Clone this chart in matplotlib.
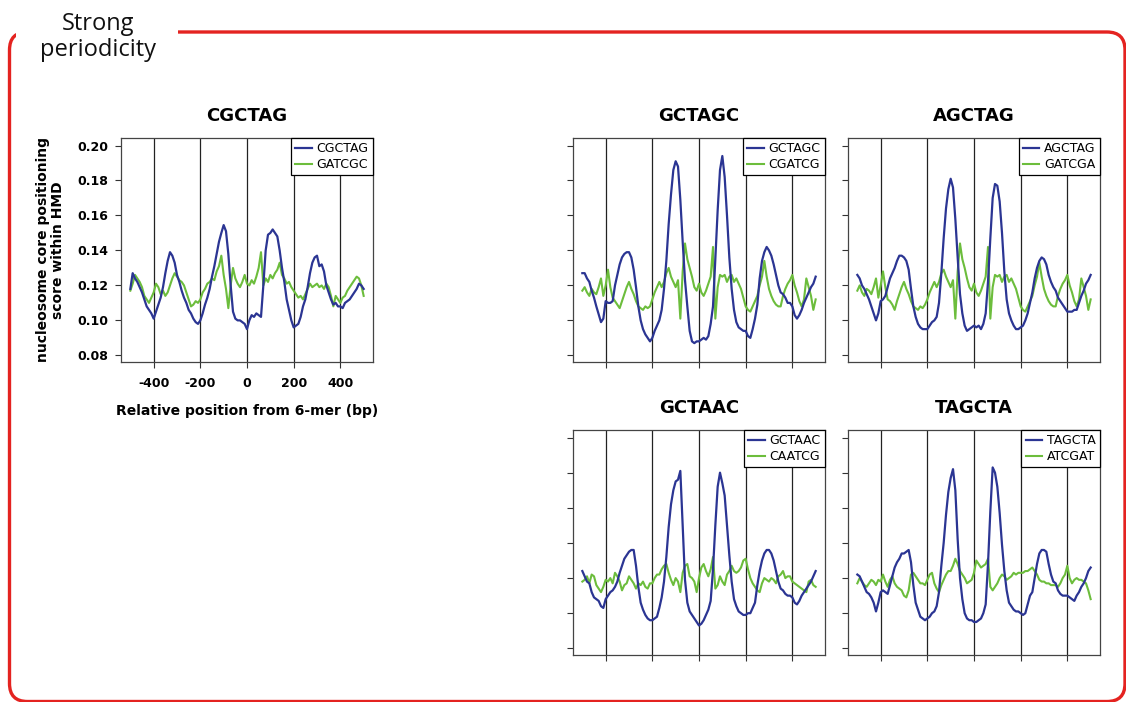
import matplotlib

matplotlib.use("Agg")
import matplotlib.pyplot as plt
from matplotlib.patches import FancyBboxPatch, Rectangle

# positions relative to the 6-mer, 10 bp steps
positions = list(range(-500, 501, 10))

cgctag = [
    0.118, 0.127, 0.124, 0.122, 0.119, 0.116, 0.112, 0.108, 0.106, 0.104,
    0.101, 0.105, 0.109, 0.113, 0.119, 0.127, 0.134, 0.139, 0.137, 0.133,
    0.126, 0.122, 0.117, 0.113, 0.110, 0.106, 0.104, 0.101, 0.099, 0.098,
    0.100, 0.104, 0.109, 0.113, 0.118, 0.125, 0.131, 0.138, 0.145, 0.150,
    0.1545, 0.151, 0.138, 0.120, 0.105, 0.101, 0.100, 0.100, 0.099, 0.098,
    0.095, 0.100, 0.103, 0.102, 0.104, 0.103, 0.102, 0.120, 0.140, 0.149,
    0.150, 0.152, 0.150, 0.148, 0.140, 0.130, 0.122, 0.112, 0.106, 0.100,
    0.096, 0.097, 0.098, 0.102, 0.108, 0.112, 0.119, 0.127, 0.133, 0.136,
    0.137, 0.131, 0.132, 0.128, 0.120, 0.116, 0.112, 0.109, 0.110, 0.108,
    0.108, 0.107, 0.110, 0.111, 0.112, 0.114, 0.116, 0.118, 0.121, 0.120,
    0.118,
]
gatcgc = [
    0.117, 0.121, 0.126, 0.124, 0.122, 0.119, 0.114, 0.112, 0.110, 0.113,
    0.116, 0.121, 0.119, 0.115, 0.117, 0.114, 0.116, 0.120, 0.124, 0.127,
    0.125, 0.123, 0.122, 0.120, 0.116, 0.112, 0.108, 0.109, 0.111, 0.110,
    0.112, 0.116, 0.118, 0.121, 0.122, 0.124, 0.123, 0.128, 0.131, 0.137,
    0.126, 0.118, 0.107, 0.120, 0.130, 0.124, 0.121, 0.119, 0.122, 0.126,
    0.121, 0.120, 0.123, 0.121, 0.125, 0.130, 0.139, 0.120, 0.124, 0.122,
    0.126, 0.124, 0.127, 0.129, 0.133, 0.126, 0.124, 0.121, 0.122, 0.119,
    0.117, 0.115, 0.113, 0.114, 0.112, 0.115, 0.118, 0.121, 0.119, 0.120,
    0.121, 0.119, 0.120, 0.118, 0.121, 0.119, 0.114, 0.108, 0.114, 0.112,
    0.110, 0.113, 0.114, 0.117, 0.119, 0.121, 0.123, 0.125, 0.124, 0.120,
    0.114,
]

gctagc = [
    0.127, 0.127, 0.124, 0.122, 0.117, 0.113, 0.108, 0.1035, 0.099, 0.101,
    0.111, 0.110, 0.110, 0.111, 0.120, 0.126, 0.132, 0.136, 0.138, 0.139,
    0.139, 0.136, 0.129, 0.119, 0.108, 0.100, 0.095, 0.092, 0.090, 0.088,
    0.090, 0.094, 0.097, 0.100, 0.106, 0.118, 0.134, 0.155, 0.172, 0.186,
    0.191, 0.188, 0.169, 0.145, 0.123, 0.108, 0.094, 0.088, 0.087, 0.088,
    0.088, 0.089, 0.090, 0.089, 0.091, 0.098, 0.108, 0.135, 0.163, 0.186,
    0.194, 0.182, 0.160, 0.136, 0.118, 0.106, 0.099, 0.096, 0.095, 0.094,
    0.094, 0.091, 0.090, 0.095, 0.101, 0.109, 0.124, 0.134, 0.139, 0.142,
    0.140, 0.137, 0.132, 0.126, 0.120, 0.116, 0.115, 0.113, 0.110, 0.110,
    0.108, 0.103, 0.101, 0.103, 0.106, 0.110, 0.113, 0.116, 0.119, 0.121,
    0.125,
]
cgatcg = [
    0.117, 0.119, 0.116, 0.114, 0.118, 0.116, 0.115, 0.119, 0.124, 0.114,
    0.120, 0.129, 0.119, 0.113, 0.111, 0.109, 0.107, 0.111, 0.115, 0.119,
    0.122, 0.118, 0.115, 0.111, 0.108, 0.107, 0.106, 0.108, 0.107, 0.108,
    0.112, 0.116, 0.119, 0.122, 0.119, 0.122, 0.127, 0.130, 0.125, 0.122,
    0.119, 0.123, 0.101, 0.128, 0.144, 0.135, 0.130, 0.125, 0.119, 0.117,
    0.121, 0.116, 0.114, 0.117, 0.121, 0.125, 0.142, 0.101, 0.119, 0.126,
    0.125, 0.126, 0.122, 0.125, 0.126, 0.122, 0.124, 0.121, 0.118, 0.113,
    0.108, 0.106, 0.105, 0.108, 0.111, 0.114, 0.120, 0.125, 0.134, 0.125,
    0.118, 0.114, 0.111, 0.109, 0.108, 0.108, 0.114, 0.118, 0.121, 0.123,
    0.126, 0.120, 0.116, 0.111, 0.108, 0.112, 0.124, 0.119, 0.114, 0.106,
    0.112,
]

agctag = [
    0.126, 0.124, 0.120, 0.118, 0.115, 0.112, 0.108, 0.104, 0.100, 0.104,
    0.111, 0.112, 0.114, 0.119, 0.124, 0.127, 0.130, 0.134, 0.137, 0.137,
    0.136, 0.134, 0.129, 0.118, 0.108, 0.102, 0.098, 0.096, 0.095, 0.095,
    0.095, 0.097, 0.099, 0.100, 0.102, 0.110, 0.127, 0.147, 0.164, 0.175,
    0.181, 0.176, 0.158, 0.136, 0.115, 0.104, 0.097, 0.094, 0.095, 0.096,
    0.097, 0.096, 0.097, 0.095, 0.098, 0.104, 0.122, 0.147, 0.170, 0.178,
    0.177, 0.168, 0.150, 0.128, 0.112, 0.104, 0.100, 0.097, 0.095, 0.095,
    0.096, 0.097, 0.100, 0.104, 0.110, 0.116, 0.124, 0.130, 0.134, 0.136,
    0.135, 0.132, 0.126, 0.122, 0.119, 0.117, 0.113, 0.111, 0.109, 0.107,
    0.105, 0.105, 0.105, 0.106, 0.106, 0.110, 0.114, 0.117, 0.121, 0.123,
    0.126,
]
gatcga = [
    0.117, 0.120, 0.116, 0.114, 0.118, 0.117, 0.115, 0.119, 0.124, 0.113,
    0.120, 0.128, 0.119, 0.112, 0.111, 0.109, 0.106, 0.111, 0.115, 0.119,
    0.122, 0.118, 0.115, 0.111, 0.108, 0.107, 0.106, 0.108, 0.107, 0.109,
    0.112, 0.116, 0.119, 0.122, 0.119, 0.122, 0.127, 0.129, 0.125, 0.122,
    0.119, 0.123, 0.101, 0.128, 0.144, 0.135, 0.130, 0.124, 0.119, 0.117,
    0.121, 0.116, 0.114, 0.117, 0.121, 0.125, 0.142, 0.101, 0.119, 0.126,
    0.125, 0.126, 0.122, 0.125, 0.126, 0.122, 0.124, 0.121, 0.118, 0.113,
    0.108, 0.106, 0.105, 0.108, 0.111, 0.114, 0.120, 0.125, 0.133, 0.125,
    0.118, 0.114, 0.111, 0.109, 0.108, 0.108, 0.114, 0.118, 0.121, 0.123,
    0.126, 0.120, 0.116, 0.111, 0.108, 0.112, 0.124, 0.119, 0.114, 0.106,
    0.112,
]

gctaac = [
    0.124, 0.121, 0.118, 0.117, 0.112, 0.109, 0.108, 0.107, 0.104, 0.103,
    0.108, 0.110, 0.112, 0.113, 0.115, 0.118, 0.123, 0.127, 0.131, 0.133,
    0.135, 0.136, 0.136, 0.127, 0.115, 0.106, 0.102, 0.099, 0.097, 0.096,
    0.096, 0.097, 0.098, 0.103, 0.109, 0.118, 0.132, 0.149, 0.162, 0.170,
    0.175, 0.176, 0.181, 0.150, 0.119, 0.106, 0.101, 0.099, 0.097, 0.095,
    0.093, 0.094, 0.096, 0.099, 0.102, 0.107, 0.125, 0.150, 0.172, 0.180,
    0.174, 0.167, 0.150, 0.133, 0.118, 0.108, 0.104, 0.101, 0.100, 0.099,
    0.099, 0.100, 0.100, 0.103, 0.106, 0.116, 0.124, 0.130, 0.134, 0.136,
    0.136, 0.134, 0.130, 0.124, 0.118, 0.114, 0.113, 0.111, 0.110, 0.110,
    0.109, 0.106, 0.105, 0.107, 0.110, 0.112, 0.114, 0.116, 0.118, 0.121,
    0.124,
]
caatcg = [
    0.118, 0.119, 0.121, 0.117, 0.122, 0.121, 0.116, 0.114, 0.112, 0.115,
    0.119, 0.118, 0.120, 0.117, 0.123, 0.121, 0.118, 0.113, 0.116, 0.117,
    0.121, 0.119, 0.117, 0.114, 0.117, 0.116, 0.118, 0.115, 0.114, 0.117,
    0.117, 0.120, 0.122, 0.122, 0.125, 0.127, 0.128, 0.123, 0.119, 0.116,
    0.120, 0.118, 0.112, 0.123, 0.127, 0.128, 0.121, 0.120, 0.118, 0.112,
    0.120, 0.126, 0.128, 0.124, 0.121, 0.125, 0.132, 0.114, 0.116, 0.121,
    0.118, 0.116, 0.122, 0.124, 0.127, 0.124, 0.123, 0.124, 0.126, 0.130,
    0.131, 0.125, 0.120, 0.117, 0.115, 0.113, 0.112, 0.117, 0.120, 0.119,
    0.118, 0.120, 0.119, 0.117, 0.121, 0.122, 0.124, 0.120, 0.121, 0.121,
    0.118, 0.117, 0.116, 0.115, 0.114, 0.113, 0.112, 0.118, 0.119, 0.116,
    0.115,
]

tagcta = [
    0.122, 0.121, 0.118, 0.115, 0.112, 0.111, 0.109, 0.106, 0.101, 0.106,
    0.112, 0.113, 0.112, 0.111, 0.116, 0.121, 0.126, 0.129, 0.131, 0.134,
    0.134, 0.135, 0.136, 0.129, 0.116, 0.106, 0.102, 0.098, 0.097, 0.096,
    0.097, 0.098, 0.100, 0.101, 0.104, 0.112, 0.127, 0.140, 0.156, 0.169,
    0.177, 0.182, 0.170, 0.142, 0.120, 0.108, 0.100, 0.097, 0.096, 0.096,
    0.095, 0.095, 0.096, 0.097, 0.100, 0.105, 0.128, 0.158, 0.183, 0.180,
    0.172, 0.157, 0.139, 0.124, 0.113, 0.106, 0.104, 0.102, 0.101, 0.101,
    0.100, 0.099, 0.100, 0.105, 0.110, 0.112, 0.120, 0.128, 0.134, 0.136,
    0.136, 0.135, 0.128, 0.122, 0.118, 0.117, 0.113, 0.111, 0.110, 0.110,
    0.110, 0.109, 0.108, 0.107, 0.110, 0.112, 0.115, 0.117, 0.120, 0.124,
    0.126,
]
atcgat = [
    0.117, 0.120, 0.118, 0.116, 0.115, 0.117, 0.119, 0.118, 0.116, 0.119,
    0.118, 0.122, 0.118, 0.115, 0.119, 0.121, 0.117, 0.115, 0.114, 0.113,
    0.110, 0.109, 0.113, 0.122, 0.123, 0.121, 0.119, 0.117, 0.117, 0.116,
    0.119, 0.122, 0.123, 0.117, 0.114, 0.112, 0.116, 0.119, 0.122, 0.124,
    0.124, 0.127, 0.131, 0.128, 0.124, 0.122, 0.120, 0.117, 0.118, 0.119,
    0.123, 0.130, 0.128, 0.126, 0.127, 0.128, 0.131, 0.115, 0.113, 0.115,
    0.117, 0.120, 0.122, 0.121, 0.119, 0.120, 0.121, 0.123, 0.122, 0.123,
    0.123, 0.123, 0.124, 0.124, 0.125, 0.126, 0.124, 0.122, 0.119, 0.118,
    0.118, 0.117, 0.117, 0.116, 0.116, 0.116, 0.115, 0.117, 0.120, 0.122,
    0.127, 0.120, 0.117, 0.119, 0.120, 0.119, 0.119, 0.118, 0.117, 0.113,
    0.108,
]

panels = [
    # (title, blue label, blue values, green label, green values, axes rect in px)
    ("CGCTAG", "CGCTAG", cgctag, "GATCGC", gatcgc, (121, 138, 373, 362)),
    ("GCTAGC", "GCTAGC", gctagc, "CGATCG", cgatcg, (573, 138, 825, 362)),
    ("AGCTAG", "AGCTAG", agctag, "GATCGA", gatcga, (848, 138, 1100, 362)),
    ("GCTAAC", "GCTAAC", gctaac, "CAATCG", caatcg, (573, 430, 825, 655)),
    ("TAGCTA", "TAGCTA", tagcta, "ATCGAT", atcgat, (848, 430, 1100, 655)),
]

guide_lines = [-400, -200, 0, 200, 400]
y_ticks = [0.08, 0.10, 0.12, 0.14, 0.16, 0.18, 0.20]

BLUE = "#2b3593"
GREEN = "#6cbd3c"
RED = "#e42320"
W, H = 1126, 702

fig = plt.figure(figsize=(W / 100, H / 100), dpi=100)

# pixel-space background layer for the red rounded frame
bg = fig.add_axes([0, 0, 1, 1])
bg.set_xlim(0, W)
bg.set_ylim(H, 0)
bg.axis("off")
bg.add_patch(
    FancyBboxPatch(
        (9.5, 32), 1115.5, 669.5,
        boxstyle="round,pad=0,rounding_size=18",
        facecolor="none", edgecolor=RED, linewidth=2.4,
    )
)
bg.add_patch(Rectangle((16, 0), 162, 40, facecolor="white", edgecolor="none", zorder=3))
bg.text(98, 37, "Strong\nperiodicity", ha="center", va="center", fontsize=17,
        family="Open Sans", linespacing=1.12, zorder=4, color="#111111")

for idx, (title, blab, bvals, glab, gvals, (x0, y0, x1, y1)) in enumerate(panels):
    ax = fig.add_axes([x0 / W, 1 - y1 / H, (x1 - x0) / W, (y1 - y0) / H])
    for g in guide_lines:
        ax.axvline(g, color="#222222", linewidth=0.9, zorder=1)
    ax.plot(positions, bvals, color=BLUE, linewidth=1.6, label=blab, zorder=3)
    ax.plot(positions, gvals, color=GREEN, linewidth=1.5, label=glab, zorder=2)

    ax.set_xlim(-540, 540)
    ax.set_ylim(0.0762, 0.2043)
    ax.set_xticks(guide_lines)
    ax.set_yticks(y_ticks)
    ax.tick_params(direction="out", length=4, width=0.8, color="#333333", pad=5)
    ax.tick_params(axis="x", pad=7)
    for side in ax.spines.values():
        side.set_color("#444444")
        side.set_linewidth(0.9)

    ax.set_title(title, fontsize=13, fontweight="bold", pad=12)
    leg = ax.legend(loc="upper right", borderaxespad=0, fancybox=False, framealpha=1,
                    edgecolor="black", fontsize=9, handlelength=1.3, handletextpad=0.4,
                    borderpad=0.35, labelspacing=0.2)
    leg.get_frame().set_linewidth(0.9)

    if idx == 0:
        ax.set_xticklabels([str(v) for v in guide_lines], fontsize=9, fontweight="bold")
        ax.set_yticklabels([f"{v:.2f}" for v in y_ticks], fontsize=9, fontweight="bold")
        ax.set_xlabel("Relative position from 6-mer (bp)", fontsize=10, fontweight="bold", labelpad=10)
        ax.set_ylabel("nucleosome core positioning\nscore within HMD", fontsize=10,
                      fontweight="bold", labelpad=9, linespacing=1.1)
    else:
        ax.set_xticklabels([])
        ax.set_yticklabels([])

fig.savefig("out.png", dpi=100)
